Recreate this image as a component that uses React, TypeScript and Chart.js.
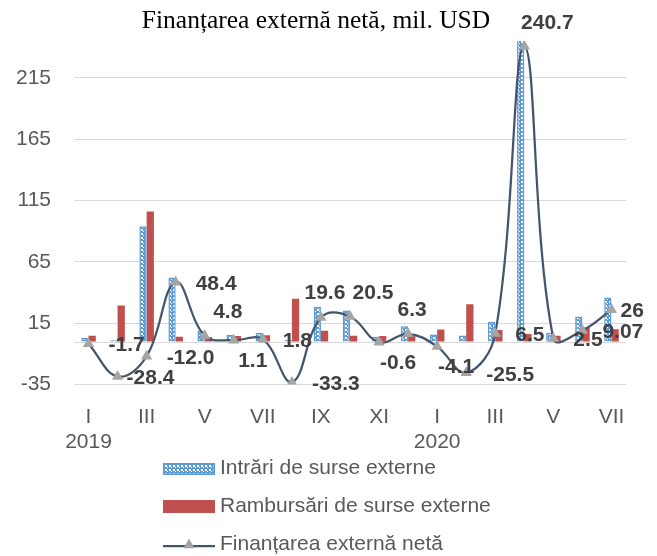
import React, { useEffect, useRef } from 'react';
import { Chart, registerables } from 'chart.js';

Chart.register(...registerables);

// ---- data ----
const chartTitle = 'Finanțarea externă netă, mil. USD';
const months = ['I', 'II', 'III', 'IV', 'V', 'VI', 'VII', 'VIII', 'IX', 'X', 'XI', 'XII', 'I', 'II', 'III', 'IV', 'V', 'VI', 'VII'];
const yearLabels = ['2019', '2020'];
const yearStartIndex = [0, 12];
const seriesNames = ['Intrări de surse externe', 'Rambursări de surse externe', 'Finanțarea externă netă'];
const intrari = [3.0, 1.0, 94.0, 52.3, 8.6, 5.6, 7.0, 1.5, 28.4, 25.3, 4.0, 12.5, 5.8, 5.0, 16.0, 246.9, 7.2, 20.5, 36.0];
const rambursari = [4.7, 29.4, 106.0, 3.9, 3.8, 4.5, 5.2, 34.8, 8.8, 4.8, 4.6, 6.2, 9.9, 30.5, 9.5, 6.2, 4.7, 11.4, 10.0];
const neta = [-1.7, -28.4, -12.0, 48.4, 4.8, 1.1, 1.8, -33.3, 19.6, 20.5, -0.6, 6.3, -4.1, -25.5, 6.5, 240.7, 2.5, 9.07, 26];
const netaLabels = ['-1.7', '-28.4', '-12.0', '48.4', '4.8', '1.1', '1.8', '-33.3', '19.6', '20.5', '-0.6', '6.3', '-4.1', '-25.5', '6.5', '240.7', '2.5', '9.07', '26'];
const yTicks = [-35, 15, 65, 115, 165, 215];
const yMin = -35;
const yMax = 245;

// label placement codes (style): r = right, rn = right (near), a = above, ar = above-right, br = below-right
const labelPlacement = ['r', 'rn', 'r', 'r', 'ar', 'br', 'r', 'r', 'a', 'ar', 'br', 'a', 'br', 'r', 'r', 'ar', 'r', 'r', 'rn'];

const SANS = "'Liberation Sans', Arial, sans-serif";
const SERIF = "'Liberation Serif', 'Times New Roman', serif";
const GRAY_TEXT = '#595959';
const BLUE = '#5B9BD5';
const RED = '#C0504D';
const LINE = '#44546A';
const MARKER = '#A5A5A5';

function drawTriangle(ctx: CanvasRenderingContext2D, x: number, y: number, r: number) {
  ctx.beginPath();
  let rad = 0;
  ctx.moveTo(x + Math.sin(rad) * r, y - Math.cos(rad) * r);
  rad += (2 * Math.PI) / 3;
  ctx.lineTo(x + Math.sin(rad) * r, y - Math.cos(rad) * r);
  rad += (2 * Math.PI) / 3;
  ctx.lineTo(x + Math.sin(rad) * r, y - Math.cos(rad) * r);
  ctx.closePath();
  ctx.fill();
}

export default function App() {
  const ref = useRef<HTMLCanvasElement>(null);

  useEffect(() => {
    document.body.style.margin = '0';
    const canvas = ref.current!;
    const pc = document.createElement('canvas');
    pc.width = 4;
    pc.height = 4;
    const pctx = pc.getContext('2d')!;
    pctx.fillStyle = BLUE;
    pctx.fillRect(0, 0, 4, 4);
    pctx.fillStyle = '#FFFFFF';
    pctx.fillRect(1, 1, 2, 2);
    pctx.fillRect(3, 3, 1, 1);
    const pattern = canvas.getContext('2d')!.createPattern(pc, 'repeat')!;

    const decor = {
      id: 'decor',
      beforeDatasetsDraw(chart: any) {
        const { ctx, chartArea } = chart;
        const y0 = Math.round(chart.scales.y.getPixelForValue(0)) + 0.5;
        ctx.save();
        ctx.strokeStyle = '#D9D9D9';
        ctx.lineWidth = 1;
        ctx.beginPath();
        ctx.moveTo(chartArea.left, y0);
        ctx.lineTo(chartArea.right, y0);
        ctx.stroke();
        ctx.restore();
      },
      afterDraw(chart: any) {
        const { ctx } = chart;
        const xs = chart.scales.x;
        ctx.save();
        // title
        ctx.fillStyle = '#000000';
        ctx.font = `25.5px ${SERIF}`;
        ctx.textAlign = 'center';
        ctx.textBaseline = 'alphabetic';
        ctx.fillText(chartTitle, 316, 28);

        // years
        ctx.fillStyle = GRAY_TEXT;
        ctx.font = `21px ${SANS}`;
        ctx.textBaseline = 'middle';
        yearLabels.forEach((yl, i) => {
          ctx.fillText(yl, xs.getPixelForValue(yearStartIndex[i]), 442);
        });

        // data labels for net line
        const meta = chart.getDatasetMeta(2);
        ctx.font = `bold 21px ${SANS}`;
        ctx.fillStyle = '#404040';
        meta.data.forEach((pt: any, i: number) => {
          const t = netaLabels[i];
          const p = labelPlacement[i];
          let x = pt.x;
          let y = pt.y;
          if (p === 'r') {
            ctx.textAlign = 'left';
            x += 20;
            y += 2;
          } else if (p === 'rn') {
            ctx.textAlign = 'left';
            x += 9;
            y += 2;
          } else if (p === 'a') {
            ctx.textAlign = 'center';
            x += 4;
            y -= 24;
          } else if (p === 'ar') {
            ctx.textAlign = 'center';
            x += 23;
            y -= 23;
          } else {
            ctx.textAlign = 'center';
            x += 19;
            y += 21;
          }
          ctx.fillText(t, x, y);
        });

        // legend
        const lx = 163;
        const lw = 52;
        const tx = 220;
        ctx.textAlign = 'left';
        ctx.textBaseline = 'middle';
        ctx.font = `21px ${SANS}`;
        // item 1
        ctx.fillStyle = pattern;
        ctx.fillRect(lx, 463, lw, 12);
        ctx.strokeStyle = BLUE;
        ctx.lineWidth = 1.5;
        ctx.strokeRect(lx + 0.75, 463.75, lw - 1.5, 10.5);
        ctx.fillStyle = GRAY_TEXT;
        ctx.fillText(seriesNames[0], tx, 468);
        // item 2
        ctx.fillStyle = RED;
        ctx.fillRect(lx, 500, lw, 13);
        ctx.fillStyle = GRAY_TEXT;
        ctx.fillText(seriesNames[1], tx, 506);
        // item 3
        ctx.strokeStyle = LINE;
        ctx.lineWidth = 2.25;
        ctx.beginPath();
        ctx.moveTo(lx, 546);
        ctx.lineTo(lx + lw, 546);
        ctx.stroke();
        ctx.fillStyle = MARKER;
        drawTriangle(ctx, lx + lw / 2, 545, 6.5);
        ctx.fillStyle = GRAY_TEXT;
        ctx.fillText(seriesNames[2], tx, 544);
        ctx.restore();
      },
    };

    const chart = new Chart(canvas, {
      type: 'bar',
      data: {
        labels: months,
        datasets: [
          {
            label: seriesNames[0],
            data: intrari,
            backgroundColor: pattern as any,
            borderColor: BLUE,
            borderWidth: 1.5,
            order: 1,
            categoryPercentage: 0.5,
            barPercentage: 1,
          },
          {
            label: seriesNames[1],
            data: rambursari,
            backgroundColor: RED,
            borderWidth: 0,
            order: 1,
            categoryPercentage: 0.5,
            barPercentage: 1,
          },
          {
            type: 'line' as const,
            label: seriesNames[2],
            data: neta,
            borderColor: LINE,
            borderWidth: 2.25,
            tension: 0.4,
            fill: false,
            pointStyle: 'triangle',
            pointRadius: 6.5,
            pointBackgroundColor: MARKER,
            pointBorderColor: MARKER,
            pointBorderWidth: 0,
            order: 0,
          } as any,
        ],
      },
      options: {
        responsive: false,
        animation: false,
        devicePixelRatio: 1,
        layout: { padding: { top: 41, right: 31, bottom: 100, left: 0 } },
        plugins: {
          legend: { display: false },
          title: { display: false },
          tooltip: { enabled: false },
        },
        scales: {
          x: {
            grid: { display: false },
            border: { display: false },
            ticks: {
              autoSkip: false,
              maxRotation: 0,
              minRotation: 0,
              padding: 12,
              color: GRAY_TEXT,
              font: { family: SANS, size: 21 },
              callback: (_v: any, i: number) => (i % 2 === 0 ? months[i] : ''),
            },
            afterFit: (s: any) => {
              s.height = 71.5;
            },
          },
          y: {
            min: yMin,
            max: yMax,
            grid: { color: '#D9D9D9', drawTicks: false, lineWidth: 1 },
            border: { display: false },
            ticks: {
              padding: 23,
              color: GRAY_TEXT,
              font: { family: SANS, size: 21 },
            },
            afterBuildTicks: (s: any) => {
              s.ticks = yTicks.map((v) => ({ value: v }));
            },
            afterFit: (s: any) => {
              s.width = 74;
            },
          },
        },
      },
      plugins: [decor],
    });

    return () => chart.destroy();
  }, []);

  return <canvas ref={ref} width={657} height={556} style={{ display: 'block' }} />;
}
